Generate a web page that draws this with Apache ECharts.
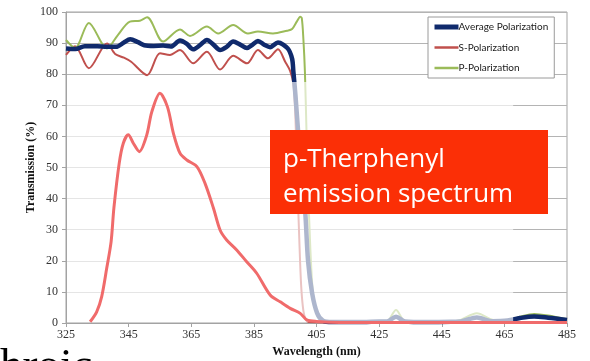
<!DOCTYPE html>
<html>
<head>
<meta charset="utf-8">
<script src="https://cdn.jsdelivr.net/npm/echarts@6/dist/echarts.min.js"></script>
<style>
html,body{margin:0;padding:0;background:#fff;}
#c{width:590px;height:361px;}
</style>
</head>
<body>
<div id="c"></div>
<script>
// ---- data ----
const seriesNames = ['Average Polarization', 'S-Polarization', 'P-Polarization'];

const avgNm = [325, 328, 331, 335, 338, 341, 343.5, 345.5, 348, 350, 353, 356, 358.5, 361.4, 363.5, 365.6, 368, 370, 372, 374.2, 376.3, 378.4, 380.5, 382.8, 384.6, 386.3, 388.3, 390.2, 392.7, 395.8, 397.2, 397.6, 398.3, 399.1, 400.3, 401.4, 402.3, 403.6, 405.2, 407.1, 410, 420, 425, 427.5, 430.4, 433.3, 440, 448, 451.5, 456.2, 461, 466, 470, 474.5, 479, 485];
const avgT  = [88.3, 88.1, 89, 89, 88.8, 88.8, 90.2, 91.2, 90.3, 89.3, 89.1, 89.2, 88.9, 90.8, 89.8, 88, 89.5, 91, 89.6, 87.8, 88.8, 90.5, 89.6, 88.4, 89.5, 90.7, 89.5, 88.7, 90.2, 88.3, 85, 81, 73, 62, 47, 35.7, 20, 9.6, 3.2, 0.7, 0.3, 0.3, 0.5, 0.5, 2, 0.5, 0.3, 0.4, 0.6, 1.8, 0.6, 0.8, 1.6, 2.1, 1.7, 1.0];

const sNm = [325, 327.9, 332.3, 338.1, 340.7, 343.5, 345.8, 350.9, 355, 358.2, 361.4, 365.6, 370, 374.2, 378.4, 382.8, 386.3, 389.5, 392.7, 395, 396.6, 397.6, 398.2, 398.9, 399.5, 400.1, 400.8, 401.6, 402.5, 420, 450, 485];
const sT  = [86.2, 89, 81.9, 89.9, 86.5, 85.3, 84, 79.7, 86.7, 86.2, 87.8, 83.5, 87.2, 81.5, 85.9, 83.5, 87.8, 85.1, 88, 84, 81, 77, 68, 45, 27, 12, 4, 1, 0.3, 0.2, 0.2, 0.3];

const pNm = [325, 327.9, 332.3, 338.1, 341.5, 345.4, 348.6, 350.9, 356, 361.4, 364.6, 370, 373.6, 378.4, 383.1, 386.3, 391.1, 395.6, 397.2, 398.7, 399.8, 400.3, 400.8, 401.3, 401.8, 402.6, 403.9, 405.5, 407.7, 412, 425, 427.5, 430.4, 433.3, 440, 448, 451, 456.2, 461.4, 466, 470, 474.5, 479, 485];
const pT  = [91, 88.4, 96.5, 88.3, 92.5, 96.9, 97.2, 98.3, 90.5, 94.4, 92.3, 95.3, 93.1, 95.8, 93.1, 93.7, 93.1, 94, 94.5, 96.9, 98.5, 98, 91.5, 80.8, 62, 35, 9, 2.5, 0.5, 0.3, 0.4, 0.5, 4.2, 0.6, 0.4, 0.5, 1, 3.1, 1, 0.8, 2, 2.9, 2.4, 1.2];

// p-Therphenyl emission spectrum
const emNm = [332.7, 334.8, 336.4, 338, 339.4, 340.3, 342, 343.3, 344.9, 346.5, 348.4, 350.8, 352.4, 355, 357.4, 359.3, 361.4, 363.6, 366.8, 369.4, 372.1, 374.2, 376.3, 379.5, 382.7, 385.9, 390.2, 393.4, 396.6, 399.8, 401.9, 405, 412.5, 430, 450, 470, 485];
const emT  = [0.4, 3.6, 8.5, 17.6, 26.1, 37, 51.4, 57.8, 60.5, 57.8, 55.1, 60.5, 67.9, 73.9, 69.5, 61, 54.6, 52.4, 50.3, 44.9, 36.9, 29.9, 26.7, 23.5, 19.7, 16, 9, 6.8, 4.7, 3.1, 1, 0.5, 0.2, 0.2, 0.2, 0.2, 0.2];

const xMin = 325, xMax = 485, xStep = 20;
const yMin = 0, yMax = 100, yStep = 10;

// translucent pasted-image region (data coords of its corners)
const fadeCorner1 = [325, 77.5];
const fadeCorner2 = [467.8, 0];

// ---- chart ----
const pair = (xs, ys) => xs.map((x, i) => [x, ys[i]]);
const serif = '"Liberation Serif", "Times New Roman", serif';
const colors = ['#102A6C', '#C0504D', '#9BBB59'];
const legendWidths = [5, 2.5, 2.5];

const chart = echarts.init(document.getElementById('c'), null, {renderer: 'canvas'});

const option = {
  animation: false,
  backgroundColor: '#ffffff',
  grid: {left: 66, right: 23, top: 12, bottom: 38, show: true, borderColor: '#a3a3a3', borderWidth: 1,
         containLabel: false, outerBoundsMode: 'none'},
  legend: {
    data: seriesNames.map((n, i) => ({name: n, lineStyle: {width: legendWidths[i], color: colors[i]}})),
    orient: 'vertical',
    left: 428, top: 17,
    itemWidth: 24, itemHeight: 10, itemGap: 10.5,
    padding: [5, 6, 5, 4],
    backgroundColor: '#ffffff',
    borderColor: '#9a9a9a', borderWidth: 1,
    itemStyle: {opacity: 0, borderWidth: 0},
    textStyle: {fontFamily: 'Lato, "Open Sans", sans-serif', fontSize: 10, color: '#1a1a1a', padding: [0, 0, 0, -5]},
    z: 30
  },
  xAxis: {
    type: 'value', min: xMin, max: xMax, interval: xStep,
    name: 'Wavelength (nm)', nameLocation: 'middle', nameGap: 23, nameMoveOverlap: false,
    nameTextStyle: {fontFamily: serif, fontWeight: 'bold', fontSize: 12, color: '#111'},
    axisLine: {show: true, lineStyle: {color: '#a3a3a3'}},
    axisTick: {show: true, length: 4, lineStyle: {color: '#a3a3a3'}},
    axisLabel: {fontFamily: serif, fontSize: 12, color: '#333', margin: 6},
    splitLine: {show: false}
  },
  yAxis: {
    type: 'value', min: yMin, max: yMax, interval: yStep,
    name: 'Transmission (%)', nameLocation: 'middle', nameGap: 29, nameMoveOverlap: false,
    nameTextStyle: {fontFamily: serif, fontWeight: 'bold', fontSize: 12, color: '#111'},
    axisLine: {show: true, lineStyle: {color: '#a3a3a3'}},
    axisTick: {show: true, length: 4, lineStyle: {color: '#a3a3a3'}},
    axisLabel: {fontFamily: serif, fontSize: 12, color: '#333', margin: 8},
    splitLine: {show: true, lineStyle: {color: '#b4b4b4', width: 1}}
  },
  series: [
    {name: seriesNames[1], type: 'line', data: pair(sNm, sT), showSymbol: false, symbol: 'none',
     smooth: 0.3, lineStyle: {color: colors[1], width: 2}, itemStyle: {color: colors[1]}, z: 2},
    {name: seriesNames[2], type: 'line', data: pair(pNm, pT), showSymbol: false, symbol: 'none',
     smooth: 0.3, lineStyle: {color: colors[2], width: 2}, itemStyle: {color: colors[2]}, z: 2},
    {name: seriesNames[0], type: 'line', data: pair(avgNm, avgT), showSymbol: false, symbol: 'none',
     smooth: 0.3, lineStyle: {color: colors[0], width: 4.5}, itemStyle: {color: colors[0]}, z: 3},
    {name: 'emission', type: 'line', data: pair(emNm, emT), showSymbol: false, symbol: 'none',
     smooth: 0.3, lineStyle: {color: '#F06B6B', width: 3}, itemStyle: {color: '#F06B6B'}, z: 10}
  ]
};
chart.setOption(option);

const a = chart.convertToPixel({gridIndex: 0}, fadeCorner1);
const b = chart.convertToPixel({gridIndex: 0}, fadeCorner2);

chart.setOption({
  graphic: [
    {type: 'rect', z: 5, silent: true,
     shape: {x: a[0] + 1, y: a[1], width: b[0] - a[0] - 1, height: b[1] - a[1] - 1},
     style: {fill: 'rgba(255,255,255,0.66)'}},
    {type: 'rect', z: 20, shape: {x: 270, y: 130, width: 278, height: 84}, style: {fill: '#FB2F06'}},
    {type: 'text', z: 21, x: 283, y: 159.5, style: {text: 'p-Therphenyl', fill: '#ffffff',
      font: '26px "Open Sans", sans-serif', verticalAlign: 'middle', align: 'left'}},
    {type: 'text', z: 21, x: 283, y: 194.5, style: {text: 'emission spectrum', fill: '#ffffff',
      font: '26px "Open Sans", sans-serif', verticalAlign: 'middle', align: 'left'}},
    {type: 'text', z: 20, x: 0, y: 367, style: {text: 'hroic', fill: '#000000',
      font: '45px "Liberation Serif", serif', verticalAlign: 'middle', align: 'left'}}
  ]
});
</script>
</body>
</html>
